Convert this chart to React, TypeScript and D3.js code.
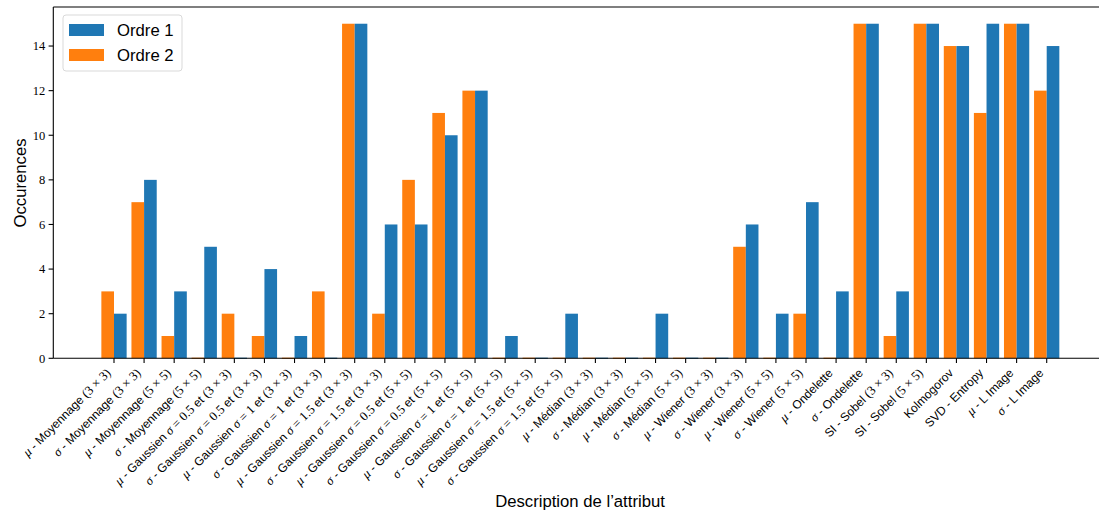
import React from "react";
import * as d3 from "d3";

const categories: string[] = [
  "$μ$ - Moyennage $(3 × 3)$",
  "$σ$ - Moyennage $(3 × 3)$",
  "$μ$ - Moyennage $(5 × 5)$",
  "$σ$ - Moyennage $(5 × 5)$",
  "$μ$ - Gaussien $σ = 0.5$ et $(3 × 3)$",
  "$σ$ - Gaussien $σ = 0.5$ et $(3 × 3)$",
  "$μ$ - Gaussien $σ = 1$ et $(3 × 3)$",
  "$σ$ - Gaussien $σ = 1$ et $(3 × 3)$",
  "$μ$ - Gaussien $σ = 1.5$ et $(3 × 3)$",
  "$σ$ - Gaussien $σ = 1.5$ et $(3 × 3)$",
  "$μ$ - Gaussien $σ = 0.5$ et $(5 × 5)$",
  "$σ$ - Gaussien $σ = 0.5$ et $(5 × 5)$",
  "$μ$ - Gaussien $σ = 1$ et $(5 × 5)$",
  "$σ$ - Gaussien $σ = 1$ et $(5 × 5)$",
  "$μ$ - Gaussien $σ = 1.5$ et $(5 × 5)$",
  "$σ$ - Gaussien $σ = 1.5$ et $(5 × 5)$",
  "$μ$ - Médian $(3 × 3)$",
  "$σ$ - Médian $(3 × 3)$",
  "$μ$ - Médian $(5 × 5)$",
  "$σ$ - Médian $(5 × 5)$",
  "$μ$ - Wiener $(3 × 3)$",
  "$σ$ - Wiener $(3 × 3)$",
  "$μ$ - Wiener $(5 × 5)$",
  "$σ$ - Wiener $(5 × 5)$",
  "$μ$ - Ondelette",
  "$σ$ - Ondelette",
  "SI - Sobel $(3 × 3)$",
  "SI - Sobel $(5 × 5)$",
  "Kolmogorov",
  "SVD - Entropy",
  "$μ$ - L Image",
  "$σ$ - L Image",
];

const ordre1: number[] = [2, 8, 3, 5, 0, 4, 1, 0, 15, 6, 6, 10, 12, 1, 0, 2, 0, 0, 2, 0, 0, 6, 2, 7, 3, 15, 3, 15, 14, 15, 15, 14];
const ordre2: number[] = [3, 7, 1, 0, 2, 1, 0, 3, 15, 2, 8, 11, 12, 0, 0, 0, 0, 0, 0, 0, 0, 5, 0, 2, 0, 15, 1, 15, 14, 11, 15, 12];

const yTicks: number[] = [0, 2, 4, 6, 8, 10, 12, 14];
const seriesNames: string[] = ["Ordre 1", "Ordre 2"];
const seriesColors: string[] = ["#1f77b4", "#ff7f0e"];

const W = 1099;
const H = 513;
const left = 53.3;
const top = 7;
const bottom = 358.3;

const SANS = "'Liberation Sans', Arial, sans-serif";
const SERIF = "'Liberation Serif', 'DejaVu Serif', serif";
const LABEL_SIZE = 12;
const MATH_SIZE = 12.8;

function renderLabel(label: string) {
  const parts = label.split("$");
  const out: React.ReactNode[] = [];
  parts.forEach((p, k) => {
    if (!p) return;
    if (k % 2 === 1) {
      const chars = Array.from(p);
      let buf = "";
      const flush = (key: string) => {
        if (buf) {
          out.push(
            <tspan key={key} fontFamily={SERIF} fontSize={MATH_SIZE}>
              {buf}
            </tspan>
          );
          buf = "";
        }
      };
      chars.forEach((c, j) => {
        if (c === "μ" || c === "σ") {
          flush(`${k}-${j}-b`);
          out.push(
            <tspan key={`${k}-${j}`} fontFamily={SERIF} fontStyle="italic" fontSize={MATH_SIZE}>
              {c}
            </tspan>
          );
        } else {
          buf += c === " " ? "\u2005" : c;
        }
      });
      flush(`${k}-end`);
    } else {
      out.push(
        <tspan key={k} fontFamily={SANS}>
          {p}
        </tspan>
      );
    }
  });
  return out;
}

export default function App() {
  const x = d3.scaleLinear().domain([0, 31]).range([114, 1046.7]);
  const y = d3.scaleLinear().domain([0, 15.75]).range([bottom, top]);
  const bw = 0.42;
  const bwPx = x(bw) - x(0);
  const idx = d3.range(categories.length);

  const bar = (v: number, xs: number, color: string, key: string) => {
    if (v === 0) {
      return <rect key={key} x={xs} y={bottom - 0.7} width={bwPx} height={1.4} fill={color} opacity={0.8} />;
    }
    return <rect key={key} x={xs} y={y(v)} width={bwPx} height={bottom - y(v)} fill={color} />;
  };

  return (
    <div style={{ position: "absolute", left: 0, top: 0 }}>
      <svg width={W} height={H} style={{ display: "block", background: "#fff" }}>
        {idx.map((i) => bar(ordre2[i], x(i) - bwPx, seriesColors[1], `o2-${i}`))}
        {idx.map((i) => bar(ordre1[i], x(i), seriesColors[0], `o1-${i}`))}

        <line x1={left} x2={W + 5} y1={top} y2={top} stroke="#000" strokeWidth={1.1} />
        <line x1={left} x2={W + 5} y1={bottom} y2={bottom} stroke="#000" strokeWidth={1.1} />
        <line x1={left} x2={left} y1={top} y2={bottom} stroke="#000" strokeWidth={1.1} />

        {yTicks.map((t) => (
          <g key={`yt-${t}`}>
            <line x1={left - 4.7} x2={left} y1={y(t)} y2={y(t)} stroke="#000" strokeWidth={1.1} />
            <text
              x={left - 8}
              y={y(t)}
              dy="0.35em"
              textAnchor="end"
              fontFamily={SERIF}
              fontSize={12.5}
              fill="#000"
            >
              {t}
            </text>
          </g>
        ))}

        {idx.map((i) => (
          <g key={`xt-${i}`}>
            <line x1={x(i)} x2={x(i)} y1={bottom} y2={bottom + 4.7} stroke="#000" strokeWidth={1.1} />
            <text
              transform={`translate(${x(i) - 2.5},${bottom + 15.5}) rotate(-45)`}
              textAnchor="end"
              fontSize={LABEL_SIZE}
              fill="#000"
            >
              {renderLabel(categories[i])}
            </text>
          </g>
        ))}

        <text
          transform={`translate(26,183) rotate(-90)`}
          textAnchor="middle"
          fontFamily={SANS}
          fontSize={16.7}
          fill="#000"
        >
          Occurences
        </text>
        <text x={580} y={507} textAnchor="middle" fontFamily={SANS} fontSize={16.7} fill="#000">
          Description de l’attribut
        </text>

        <rect x={63} y={15} width={119} height={56} rx={3} fill="#fff" fillOpacity={0.8} stroke="#d9d9d9" strokeWidth={1} />
        {seriesNames.map((n, k) => (
          <g key={n}>
            <rect x={69} y={24 + k * 25} width={35} height={12} fill={seriesColors[k]} />
            <text x={117} y={36 + k * 25} fontFamily={SANS} fontSize={16.7} fill="#000">
              {n}
            </text>
          </g>
        ))}
      </svg>
    </div>
  );
}
